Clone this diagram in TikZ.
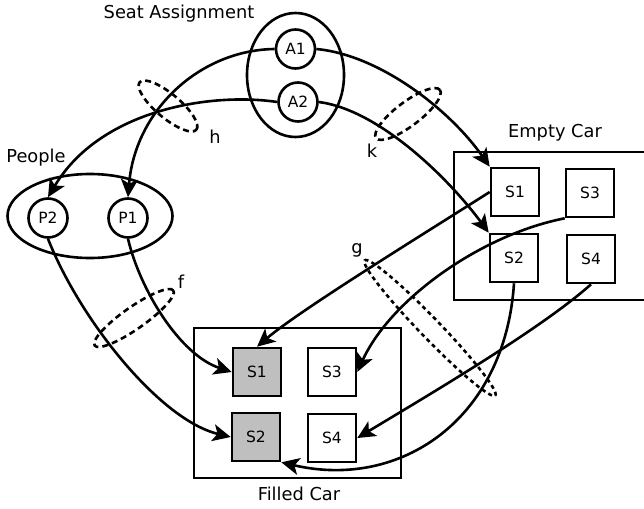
\documentclass[tikz,border=0pt]{standalone}
\usepackage{fontspec}
\setmainfont{DejaVu Sans}
\usetikzlibrary{arrows.meta,shapes.geometric}
\begin{document}
\begin{tikzpicture}[x=1pt,y=-1pt,
  line width=2.6pt,
  every node/.style={inner sep=0pt},
  lbl/.style={font=\fontsize{17.8}{20}\selectfont},
  circnode/.style={draw,circle,minimum size=39pt,font=\fontsize{15.5}{17}\selectfont},
  seatbox/.style={draw,rectangle,minimum size=48pt,font=\fontsize{15.5}{17}\selectfont},
  filledseat/.style={seatbox,fill=black!25},
  group/.style={draw,ellipse},
  car/.style={draw,rectangle},
  link/.style={-{Stealth[length=18pt,width=17pt,inset=4.5pt]}},
  cutline/.style={dash pattern=on 6pt off 4pt,line width=2.6pt},
  dotcut/.style={dash pattern=on 4pt off 3.5pt,line width=2.6pt}]
\useasboundingbox (0,0) rectangle (644,508);

% groups and cars (the empty car runs past the right border)
\node[group,minimum width=97pt,minimum height=124pt] (seat) at (295.5,75) {};
\node[group,minimum width=165pt,minimum height=84pt] (people) at (90,216) {};
\node[car,minimum width=200pt,minimum height=148pt] (empty) at (554,226) {};
\node[car,minimum width=207pt,minimum height=150pt] (filled) at (297.5,403) {};

% captions
\node[lbl] (tseat) at (179,14) {Seat Assignment};
\node[lbl] (tpeople) at (36,158) {People};
\node[lbl] (tempty) at (555,133) {Empty Car};
\node[lbl] (tfilled) at (299,494) {Filled Car};

% assignments and people
\node[circnode] (A1) at (295.5,49) {A1};
\node[circnode] (A2) at (298,102) {A2};
\node[circnode] (P2) at (48,218) {P2};
\node[circnode] (P1) at (128,218) {P1};

% empty car seats
\node[seatbox] (E1) at (515,192) {S1};
\node[seatbox] (E3) at (590,193) {S3};
\node[seatbox] (E2) at (514,258) {S2};
\node[seatbox] (E4) at (591,259) {S4};

% filled car seats
\node[filledseat] (F1) at (257,372) {S1};
\node[seatbox] (F3) at (332,372) {S3};
\node[filledseat] (F2) at (256,437) {S2};
\node[seatbox] (F4) at (332,438) {S4};

% connectors
\draw[link] (A1.west) .. controls (200,50) and (135,110) .. (P1.north);
\draw[link] (A2.west) .. controls (210,92) and (100,110) .. (P2.north);
\draw[link] (A1.east) .. controls (380,55) and (450,110) .. (E1.north west);
\draw[link] (A2.east) .. controls (380,110) and (450,180) .. (E2.north west);
\draw[link] (P1.south) .. controls (140,290) and (180,355) .. (F1.west);
\draw[link] (P2.south) .. controls (80,320) and (160,420) .. (F2.west);
\draw[link] (E1.west) .. controls (430,230) and (300,310) .. (F1.north);
\draw[link] (E3.south west) .. controls (480,235) and (390,300) .. (F3.east);
\draw[link] (E4.south) .. controls (540,330) and (420,400) .. (F4.east);
\draw[link] (E2.south) .. controls (505,420) and (400,490) .. (F2.south east);

% cuts
\draw[cutline,rotate around={-40:(168,106)}] (168,106) ellipse [x radius=37pt,y radius=12pt];
\draw[cutline,rotate around={37:(408,114)}] (408,114) ellipse [x radius=40pt,y radius=12pt];
\draw[cutline,rotate around={35:(134,318)}] (134,318) ellipse [x radius=48pt,y radius=11pt];
\draw[dotcut,rotate around={-46:(430,328)}] (430,328) ellipse [x radius=94pt,y radius=10pt];

% cut labels
\node[lbl] (lh) at (215,137) {h};
\node[lbl] (lk) at (372,151) {k};
\node[lbl] (lf) at (181,282) {f};
\node[lbl] (lg) at (357,250) {g};
\end{tikzpicture}
\end{document}
